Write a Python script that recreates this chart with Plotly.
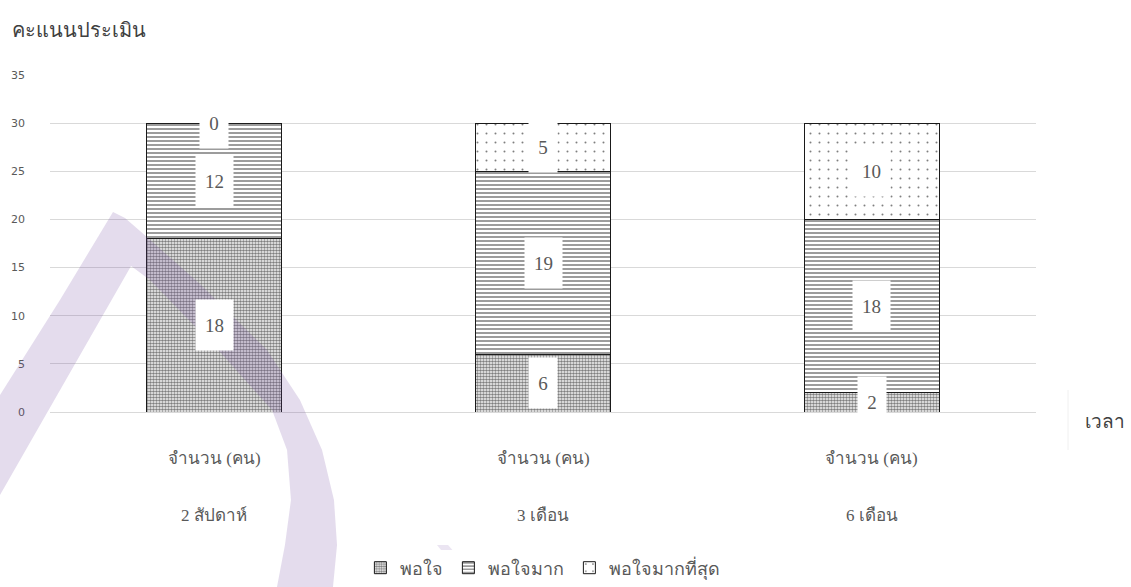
import plotly.graph_objects as go

categories = ["2 สัปดาห์", "3 เดือน", "6 เดือน"]
sub_label = "จำนวน (คน)"
satisfied = [18, 6, 2]          # พอใจ
very_satisfied = [12, 19, 18]   # พอใจมาก
most_satisfied = [0, 5, 10]     # พอใจมากที่สุด
series_names = ["พอใจ", "พอใจมาก", "พอใจมากที่สุด"]
y_ticks = [0, 5, 10, 15, 20, 25, 30, 35]

W, H = 1131, 587
ML, MR, MT, MB = 50, 95, 75, 175
PW, PH = W - ML - MR, H - MT - MB

def px2paper(px, py):
    return (px - ML) / PW, (H - MB - py) / PH

def path_from(points):
    pts = [px2paper(x, y) for x, y in points]
    return "M " + " L ".join(f"{x:.4f},{y:.4f}" for x, y in pts) + " Z"

patterns = [
    dict(shape=".", size=3, solidity=0.6, fgcolor="#000000", bgcolor="white"),
    dict(shape="-", size=4, solidity=0.45, fgcolor="#222222", bgcolor="white"),
    dict(shape=".", size=9, solidity=0.04, fgcolor="#000000", bgcolor="white"),
]
series = [satisfied, very_satisfied, most_satisfied]

fig = go.Figure()
for name, vals, pat in zip(series_names, series, patterns):
    fig.add_trace(go.Bar(
        x=categories, y=vals, name=name, width=0.41,
        marker=dict(color="white", pattern=pat, line=dict(color="#1a1a1a", width=1)),
        hoverinfo="skip",
    ))

serif_thai = "Norasi, Kinnari, Liberation Serif, serif"
annotations = []
label_font = dict(family="Liberation Serif", size=19, color="#595959")
cat_font = dict(family=serif_thai, size=17, color="#595959")
for ci, cat in enumerate(categories):
    base = 0
    for vals in series:
        v = vals[ci]
        txt = str(v)
        annotations.append(dict(
            x=cat, y=base + v / 2, xref="x", yref="y", text=txt, showarrow=False,
            font=label_font, bgcolor="white", width=17 + 9 * len(txt), height=48,
        ))
        base += v
    annotations.append(dict(
        x=cat, y=px2paper(0, 458)[1], xref="x", yref="paper", text=sub_label,
        showarrow=False, yanchor="middle", font=cat_font,
    ))
    annotations.append(dict(
        x=cat, y=px2paper(0, 515)[1], xref="x", yref="paper", text=cat,
        showarrow=False, yanchor="middle", font=cat_font,
    ))

tx, ty = px2paper(10, 30)
annotations.append(dict(x=tx, y=ty, xref="paper", yref="paper", text="คะแนนประเมิน",
                        showarrow=False, xanchor="left", yanchor="middle",
                        font=dict(family="Noto Sans, sans-serif", size=20, color="#404040")))
tx, ty = px2paper(1083, 421)
annotations.append(dict(x=tx, y=ty, xref="paper", yref="paper", text="เวลา",
                        showarrow=False, xanchor="left", yanchor="middle",
                        font=dict(family="Noto Sans, sans-serif", size=19, color="#404040")))

wm_color = "rgba(110,70,160,0.19)"
shapes = [
    dict(type="path", xref="paper", yref="paper", layer="above", line=dict(width=0),
         fillcolor=wm_color,
         path=path_from([(113, 212), (125, 218), (140, 231), (200, 284), (267, 350),
                         (300, 400), (322, 450), (334, 500), (337, 545), (333, 587),
                         (277, 587), (285, 545), (291, 500), (287, 450), (272, 410),
                         (220, 352), (150, 280), (131, 266), (0, 495), (0, 395),
                         (60, 300)])),
    dict(type="path", xref="paper", yref="paper", layer="above", line=dict(width=0),
         fillcolor="rgba(110,70,160,0.14)",
         path=path_from([(437, 545), (448, 545), (485, 587), (471, 587)])),
    dict(type="line", xref="paper", yref="paper", layer="below",
         x0=px2paper(1068, 0)[0], x1=px2paper(1068, 0)[0],
         y0=px2paper(0, 390)[1], y1=px2paper(0, 450)[1],
         line=dict(color="#f0f0f0", width=1)),
]

fig.update_layout(
    width=W, height=H,
    margin=dict(l=ML, r=MR, t=MT, b=MB, autoexpand=False),
    paper_bgcolor="white", plot_bgcolor="white",
    barmode="stack", bargap=0.59,
    showlegend=True,
    legend=dict(orientation="h", x=0.48, y=1 - 568 / H, xref="container", yref="container",
                xanchor="center", yanchor="middle",
                font=dict(family=serif_thai, size=18, color="#595959"),
                traceorder="normal", itemwidth=30, entrywidth=0),
    xaxis=dict(showticklabels=False, showgrid=False, zeroline=False, showline=False,
               ticks="", range=[-0.5, 2.5]),
    yaxis=dict(range=[0, 35], tickvals=y_ticks, showgrid=True, gridcolor="#d9d9d9",
               gridwidth=1, zeroline=True, zerolinecolor="#d9d9d9", zerolinewidth=1,
               showline=False, ticks="", ticklabelstandoff=24,
               tickfont=dict(family="DejaVu Sans, sans-serif", size=11, color="#595959")),
    annotations=annotations,
    shapes=shapes,
)

fig.write_html("out.html")
